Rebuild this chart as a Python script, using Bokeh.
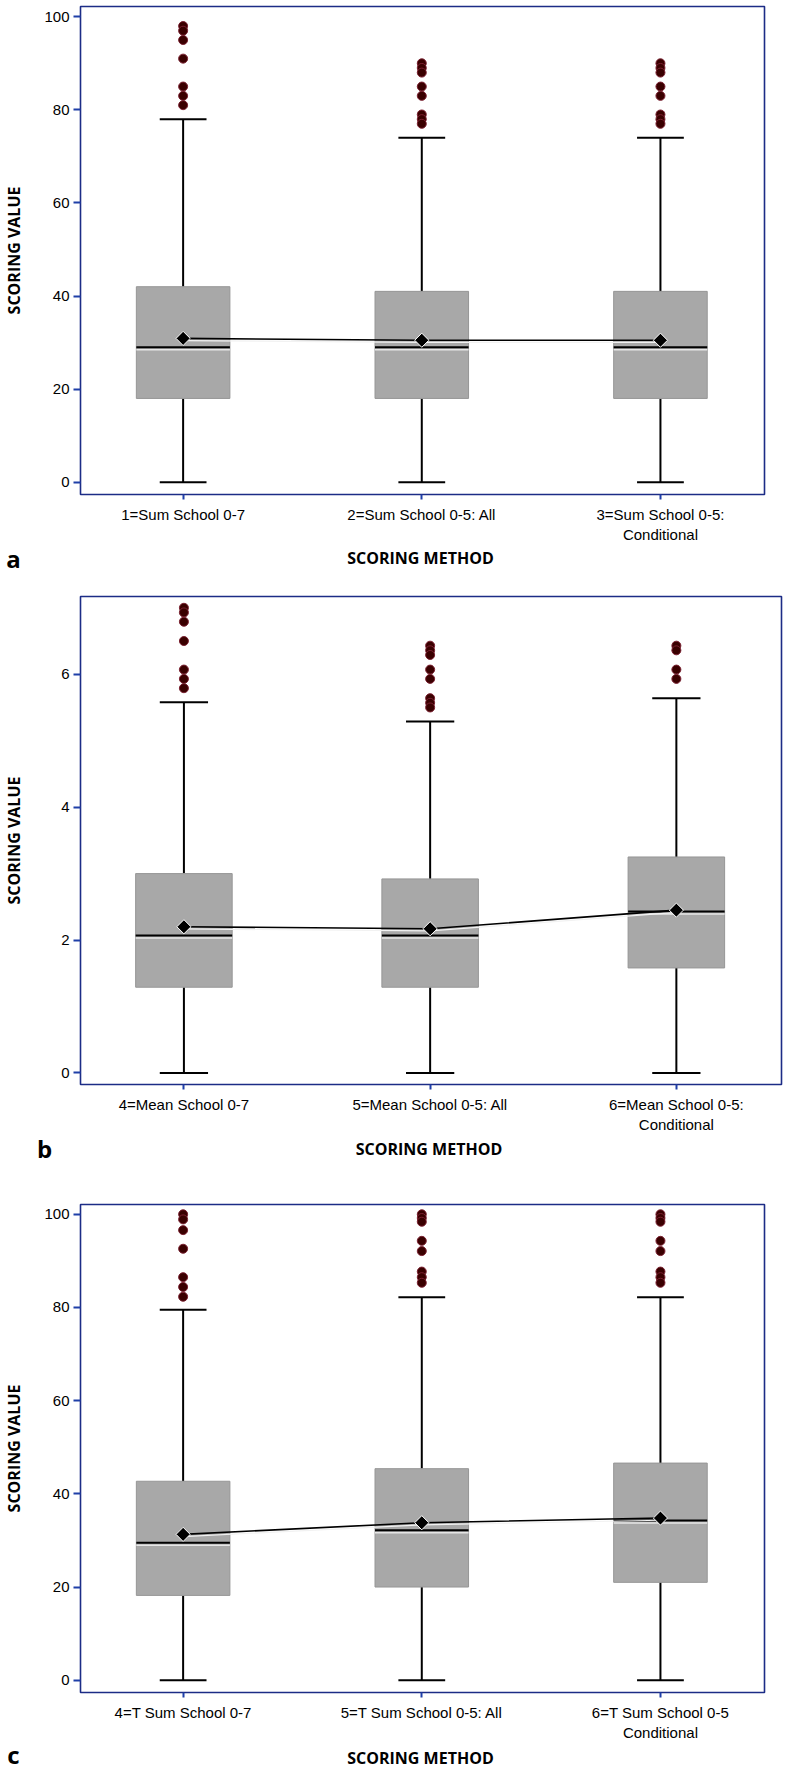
import numpy as np
from bokeh.plotting import figure
from bokeh.layouts import column
from bokeh.models import Range1d, FixedTicker
from bokeh.core.properties import value
from bokeh.embed import file_html
from bokeh.resources import INLINE

positions = [1, 2, 3]

# ---------------- Panel a ----------------
labels_a = ["1=Sum School 0-7", "2=Sum School 0-5: All", "3=Sum School 0-5:\nConditional"]
q1_a = [18, 18, 18]
med_a = [29, 29, 29]
q3_a = [42, 41, 41]
lo_a = [0, 0, 0]
hi_a = [78, 74, 74]
mean_a = [30.9, 30.5, 30.5]
out_a = [[98, 97, 95, 91, 85, 83, 81],
         [90, 89, 88, 85, 83, 79, 78, 77],
         [90, 89, 88, 85, 83, 79, 78, 77]]
yticks_a = [0, 20, 40, 60, 80, 100]

# ---------------- Panel b ----------------
labels_b = ["4=Mean School 0-7", "5=Mean School 0-5: All", "6=Mean School 0-5:\nConditional"]
q1_b = [1.29, 1.29, 1.58]
med_b = [2.07, 2.07, 2.43]
q3_b = [3.0, 2.92, 3.25]
lo_b = [0, 0, 0]
hi_b = [5.58, 5.29, 5.64]
mean_b = [2.20, 2.17, 2.45]
out_b = [[7.0, 6.93, 6.79, 6.5, 6.07, 5.93, 5.79],
         [6.43, 6.36, 6.29, 6.07, 5.93, 5.64, 5.57, 5.5],
         [6.43, 6.36, 6.07, 5.93]]
yticks_b = [0, 2, 4, 6]

# ---------------- Panel c ----------------
labels_c = ["4=T Sum School 0-7", "5=T Sum School 0-5: All", "6=T Sum School 0-5\nConditional"]
q1_c = [18.2, 20.0, 21.0]
med_c = [29.5, 32.2, 34.3]
q3_c = [42.7, 45.4, 46.6]
lo_c = [0, 0, 0]
hi_c = [79.5, 82.2, 82.2]
mean_c = [31.3, 33.8, 34.8]
out_c = [[100, 98.9, 96.6, 92.6, 86.5, 84.4, 82.3],
         [100, 99.2, 98.4, 94.3, 92.1, 87.7, 86.5, 85.3],
         [100, 99.2, 98.4, 94.3, 92.1, 87.7, 86.5, 85.3]]
yticks_c = [0, 20, 40, 60, 80, 100]

x_title = "SCORING METHOD"
y_title = "SCORING VALUE"
panel_letters = ["a", "b", "c"]

FRAME_COLOR = "#1C2C86"
TICK_COLOR = "#1F3FA8"
BOX_FILL = "#A8A8A8"
BOX_LINE = "#969696"
OUT_FILL = "#3A0000"
OUT_LINE = "#7A2030"
BOX_HALF = 0.196
CAP_HALF = 0.098
W = 787
OVERLAP = 10


def make_panel(labels, q1, med, q3, lo, hi, mean, outliers, yticks, yr, xr,
               height, top, bottom, right, ylab_standoff):
    p = figure(width=W, height=height, output_backend="svg", toolbar_location=None,
               x_range=Range1d(*xr), y_range=Range1d(*yr),
               min_border_left=76, min_border_right=right,
               min_border_top=top, min_border_bottom=bottom)
    p.frame_align = False
    p.grid.visible = False
    p.background_fill_color = "white"
    p.border_fill_color = "white"
    p.outline_line_color = FRAME_COLOR
    p.outline_line_width = 1.6
    p.outline_line_alpha = 1.0

    frame_h = height - top - bottom
    px = (yr[1] - yr[0]) / frame_h  # data units per pixel

    xs = positions
    # whiskers
    p.segment(x0=xs, y0=q3, x1=xs, y1=hi, line_color="black", line_width=2)
    p.segment(x0=xs, y0=q1, x1=xs, y1=lo, line_color="black", line_width=2)
    p.segment(x0=[x - CAP_HALF for x in xs], y0=hi, x1=[x + CAP_HALF for x in xs], y1=hi,
              line_color="black", line_width=2)
    p.segment(x0=[x - CAP_HALF for x in xs], y0=lo, x1=[x + CAP_HALF for x in xs], y1=lo,
              line_color="black", line_width=2)
    # boxes
    p.vbar(x=xs, width=2 * BOX_HALF, top=q3, bottom=q1, fill_color=BOX_FILL,
           line_color=BOX_LINE, line_width=1)
    # median with light halo below
    p.segment(x0=[x - BOX_HALF for x in xs], y0=[m - 2.5 * px for m in med],
              x1=[x + BOX_HALF for x in xs], y1=[m - 2.5 * px for m in med],
              line_color="#E6E6E6", line_width=1.5)
    p.segment(x0=[x - BOX_HALF for x in xs], y0=med, x1=[x + BOX_HALF for x in xs], y1=med,
              line_color="black", line_width=2)
    # mean connect line
    p.line(xs, [m - 2.2 * px for m in mean], line_color="#F2F2F2", line_width=1.2)
    p.line(xs, mean, line_color="black", line_width=1.6)
    p.scatter(xs, mean, marker="square", angle=np.pi / 4, size=10,
              fill_color="black", line_color="white", line_width=1)
    # outliers
    ox, oy = [], []
    for x, vals in zip(xs, outliers):
        for v in vals:
            ox.append(x)
            oy.append(v)
    p.scatter(ox, oy, marker="circle", size=9, fill_color=OUT_FILL, line_color=OUT_LINE,
              line_width=1)

    # axes
    for ax in (p.xaxis, p.yaxis):
        ax.axis_line_color = None
        ax.major_tick_line_color = TICK_COLOR
        ax.major_tick_line_width = 2
        ax.minor_tick_line_color = None
        ax.major_tick_in = 0
        ax.major_label_text_font = "Liberation Sans"
        ax.major_label_text_font_size = "15px"
        ax.major_label_text_color = "black"
        ax.axis_label_text_font = "Open Sans"
        ax.axis_label_text_font_style = "bold"
        ax.axis_label_text_font_size = "16px"
        ax.axis_label_text_color = "black"
    p.yaxis.major_tick_out = 7
    p.yaxis.major_label_standoff = 4
    p.yaxis.ticker = FixedTicker(ticks=yticks)
    p.yaxis.axis_label = y_title
    p.yaxis.axis_label_standoff = ylab_standoff

    p.xaxis.major_tick_out = 5
    p.xaxis.major_label_standoff = 6
    p.xaxis.ticker = FixedTicker(ticks=xs)
    p.xaxis.major_label_overrides = {x: lab for x, lab in zip(xs, labels)}
    return p


def make_strip(height, letter, letter_x, letter_y, title_x, title_y):
    """Transparent row under a panel (overlapping its empty bottom edge a little)
    holding the panel letter and the x-axis title."""
    s = figure(width=W, height=height, output_backend="svg", toolbar_location=None,
               x_range=Range1d(0, W), y_range=Range1d(0, height),
               min_border_left=0, min_border_right=0, min_border_top=0, min_border_bottom=0,
               margin=(-OVERLAP, 0, 0, 0))
    s.frame_align = False
    s.axis.visible = False
    s.grid.visible = False
    s.outline_line_color = None
    s.background_fill_alpha = 0
    s.border_fill_alpha = 0
    s.text(x=[letter_x], y=[letter_y], text=[letter], text_font=value("Open Sans"),
           text_font_style="bold", text_font_size="24px", text_align="center",
           text_baseline="middle", text_color="black")
    s.text(x=[title_x], y=[title_y], text=[x_title], text_font=value("Open Sans"),
           text_font_style="bold", text_font_size="16px", text_align="center",
           text_baseline="middle", text_color="black")
    return s


pa = make_panel(labels_a, q1_a, med_a, q3_a, lo_a, hi_a, mean_a, out_a, yticks_a,
                (-2.64, 102.2), (0.570, 3.436), 545, 6, 50, 23, 16)
sa = make_strip(35 + OVERLAP, panel_letters[0], 13, 22.3, 420, 22.3)

pb = make_panel(labels_b, q1_b, med_b, q3_b, lo_b, hi_b, mean_b, out_b, yticks_b,
                (-0.174, 7.17), (0.580, 3.427), 555, 16, 50, 6, 33)
sb = make_strip(45 + OVERLAP, panel_letters[1], 44, 32, 428.5, 32)

pc = make_panel(labels_c, q1_c, med_c, q3_c, lo_c, hi_c, mean_c, out_c, yticks_c,
                (-2.64, 102.1), (0.570, 3.436), 563, 24, 50, 23, 16)
sc = make_strip(28 + OVERLAP, panel_letters[2], 13, 16.6, 420, 14)

layout = column(pa, sa, pb, sb, pc, sc, spacing=0)
open("out.html", "w").write(file_html(layout, INLINE))
